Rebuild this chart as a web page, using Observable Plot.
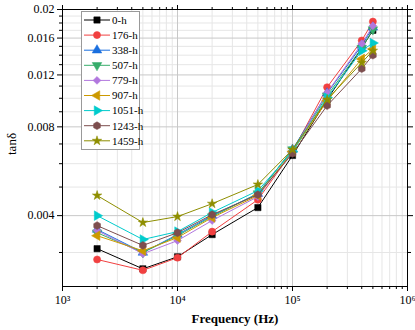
<!DOCTYPE html>
<html><head><meta charset="utf-8">
<script src="https://cdn.jsdelivr.net/npm/d3@7"></script>
<script src="https://cdn.jsdelivr.net/npm/@observablehq/plot@0.6"></script>
<style>body{margin:0;background:#fff} svg{display:block}</style>
</head><body><div id="chart"></div>
<script>
// ---- data ----
const freq = [2000, 5000, 10000, 20000, 50000, 100000, 200000, 400000, 500000];
const seriesNames = ["0-h", "176-h", "338-h", "507-h", "779-h", "907-h", "1051-h", "1243-h", "1459-h"];
const colors = ["#000000", "#f14040", "#1a6fdf", "#37ad6b", "#b177de", "#cc9900", "#00cbcc", "#7d4e4e", "#8e8e00"];
const v0h    = [0.00309, 0.00264, 0.00290, 0.00345, 0.00426, 0.00640, 0.00990, 0.01480, 0.01700];
const v176h  = [0.00284, 0.00261, 0.00288, 0.00353, 0.00453, 0.00660, 0.01090, 0.01570, 0.01820];
const v338h  = [0.00359, 0.00300, 0.00345, 0.00400, 0.00475, 0.00670, 0.01040, 0.01510, 0.01740];
const v507h  = [0.00350, 0.00300, 0.00342, 0.00397, 0.00475, 0.00670, 0.01020, 0.01480, 0.01710];
const v779h  = [0.00356, 0.00297, 0.00329, 0.00385, 0.00464, 0.00660, 0.01045, 0.01530, 0.01760];
const v907h  = [0.00342, 0.00304, 0.00337, 0.00394, 0.00468, 0.00660, 0.00980, 0.01360, 0.01470];
const v1051h = [0.00400, 0.00332, 0.00353, 0.00410, 0.00486, 0.00660, 0.01005, 0.01450, 0.01540];
const v1243h = [0.00370, 0.00317, 0.00350, 0.00403, 0.00471, 0.00650, 0.00944, 0.01260, 0.01400];
const v1459h = [0.00468, 0.00379, 0.00397, 0.00439, 0.00510, 0.00670, 0.00990, 0.01320, 0.01450];
const seriesValues = [v0h, v176h, v338h, v507h, v779h, v907h, v1051h, v1243h, v1459h];

const xMajorTicks = [1e3, 1e4, 1e5, 1e6];
const yMajorTicks = [0.004, 0.008, 0.012, 0.016, 0.02];
const yLabel = "tanδ";
const xLabel = "Frequency (Hz)";

// ---- symbols ----
const sqrt3 = Math.sqrt(3);
function rotTri(deg) {
  const a = deg * Math.PI / 180, c = Math.cos(a), s = Math.sin(a);
  return {draw(ctx, size) {
    const y = -Math.sqrt(size / (sqrt3 * 3));
    const pts = [[0, 2 * y], [-sqrt3 * y, -y], [sqrt3 * y, -y]].map(([px, py]) => [px * c - py * s, px * s + py * c]);
    ctx.moveTo(pts[0][0], pts[0][1]); ctx.lineTo(pts[1][0], pts[1][1]); ctx.lineTo(pts[2][0], pts[2][1]); ctx.closePath();
  }};
}
const hexagon = {draw(ctx, size) {
  const r = Math.sqrt(2 * size / (3 * sqrt3));
  for (let i = 0; i < 6; i++) {
    const a = (i * 60 + 30) * Math.PI / 180;
    const px = r * Math.cos(a), py = r * Math.sin(a);
    if (i === 0) ctx.moveTo(px, py); else ctx.lineTo(px, py);
  }
  ctx.closePath();
}};
const symbols = [d3.symbolSquare, d3.symbolCircle, rotTri(0), rotTri(180), d3.symbolDiamond2, rotTri(-90), rotTri(90), hexagon, d3.symbolStar];
const symSizes = [40, 40, 40, 40, 40, 40, 40, 40, 28];

// ---- rows ----
const rows = seriesNames.map((name, i) => freq.map((f, j) => ({series: name, f, v: seriesValues[i][j]})));

// minor ticks / grid
const xMinor = [];
for (let e = 3; e < 6; e++) for (let k = 2; k <= 9; k++) xMinor.push(k * 10 ** e);
const yMinor = [];
for (let k = 3; k <= 19; k++) if (k % 4 !== 0) yMinor.push(k / 1000);

const supMap = {"3": "³", "4": "⁴", "5": "⁵", "6": "⁶"};

const marks = [
  Plot.ruleX(xMinor, {stroke: "#e6e6e6", strokeWidth: 1}),
  Plot.ruleY(yMinor, {stroke: "#e6e6e6", strokeWidth: 1}),
  Plot.ruleX([1e4, 1e5], {stroke: "#c8c8c8", strokeWidth: 1}),
  Plot.ruleY([0.004, 0.008, 0.012, 0.016], {stroke: "#c8c8c8", strokeWidth: 1}),
];
rows.forEach((r, i) => {
  marks.push(Plot.line(r, {x: "f", y: "v", stroke: colors[i], strokeWidth: 1}));
  marks.push(Plot.dot(r, {x: "f", y: "v", symbol: symbols[i], r: Math.sqrt(symSizes[i] / Math.PI), fill: colors[i], stroke: colors[i], strokeWidth: 0.5}));
});
marks.push(
  Plot.frame({stroke: "#000", strokeWidth: 1}),
  Plot.axisX({ticks: xMajorTicks, tickSize: 5, tickPadding: 4, label: null, fontSize: 12,
    tickFormat: d => "10" + supMap[String(Math.round(Math.log10(d)))]}),
  Plot.axisX({ticks: xMinor, tickSize: 3, label: null, tickFormat: () => ""}),
  Plot.axisX({anchor: "top", ticks: xMajorTicks, tickSize: 5, label: null, tickFormat: () => ""}),
  Plot.axisX({anchor: "top", ticks: xMinor, tickSize: 3, label: null, tickFormat: () => ""}),
  Plot.axisY({ticks: yMajorTicks, tickSize: 5, tickPadding: 3, label: null, fontSize: 12,
    tickFormat: d => String(+d.toFixed(3))}),
  Plot.axisY({ticks: yMinor, tickSize: 3, label: null, tickFormat: () => ""}),
  Plot.axisY({anchor: "right", ticks: yMajorTicks, tickSize: 5, label: null, tickFormat: () => ""}),
  Plot.axisY({anchor: "right", ticks: yMinor, tickSize: 3, label: null, tickFormat: () => ""}),
  Plot.text([xLabel], {frameAnchor: "bottom", dy: 36, text: d => d, fontSize: 13, fontWeight: "bold", fill: "#000"}),
  Plot.text([yLabel], {frameAnchor: "left", dx: -51, dy: 7, text: d => d, rotate: -90, fontSize: 13, fill: "#000"})
);

const chart = Plot.plot({
  width: 415, height: 330,
  marginLeft: 62, marginRight: 8, marginTop: 9, marginBottom: 44,
  style: {fontFamily: "'Liberation Serif', 'Times New Roman', serif", fontSize: "12px", color: "#000", background: "#fff"},
  x: {type: "log", domain: [1e3, 1e6], axis: null},
  y: {type: "log", domain: [0.0023, 0.02], axis: null},
  marks
});
document.getElementById("chart").appendChild(chart);

// ---- legend ----
const svg = d3.select(chart);
const lg = svg.append("g").attr("font-family", "'Liberation Serif', 'Times New Roman', serif")
  .attr("font-size", 11).attr("text-anchor", "start");
lg.append("rect").attr("x", 81.5).attr("y", 11.5).attr("width", 58).attr("height", 138)
  .attr("fill", "#fff").attr("stroke", "#999").attr("stroke-width", 1);
seriesNames.forEach((name, i) => {
  const y = 20 + i * 15.1;
  lg.append("line").attr("x1", 84).attr("x2", 110).attr("y1", y).attr("y2", y).attr("stroke", colors[i]).attr("stroke-width", 1);
  lg.append("path").attr("d", d3.symbol(symbols[i], symSizes[i])()).attr("transform", `translate(97,${y})`)
    .attr("fill", colors[i]).attr("stroke", colors[i]).attr("stroke-width", 0.5);
  lg.append("text").attr("x", 112).attr("y", y).attr("dy", "0.35em").attr("fill", "#000")
    .attr("text-anchor", "start").text(name);
});
</script>
</body></html>
